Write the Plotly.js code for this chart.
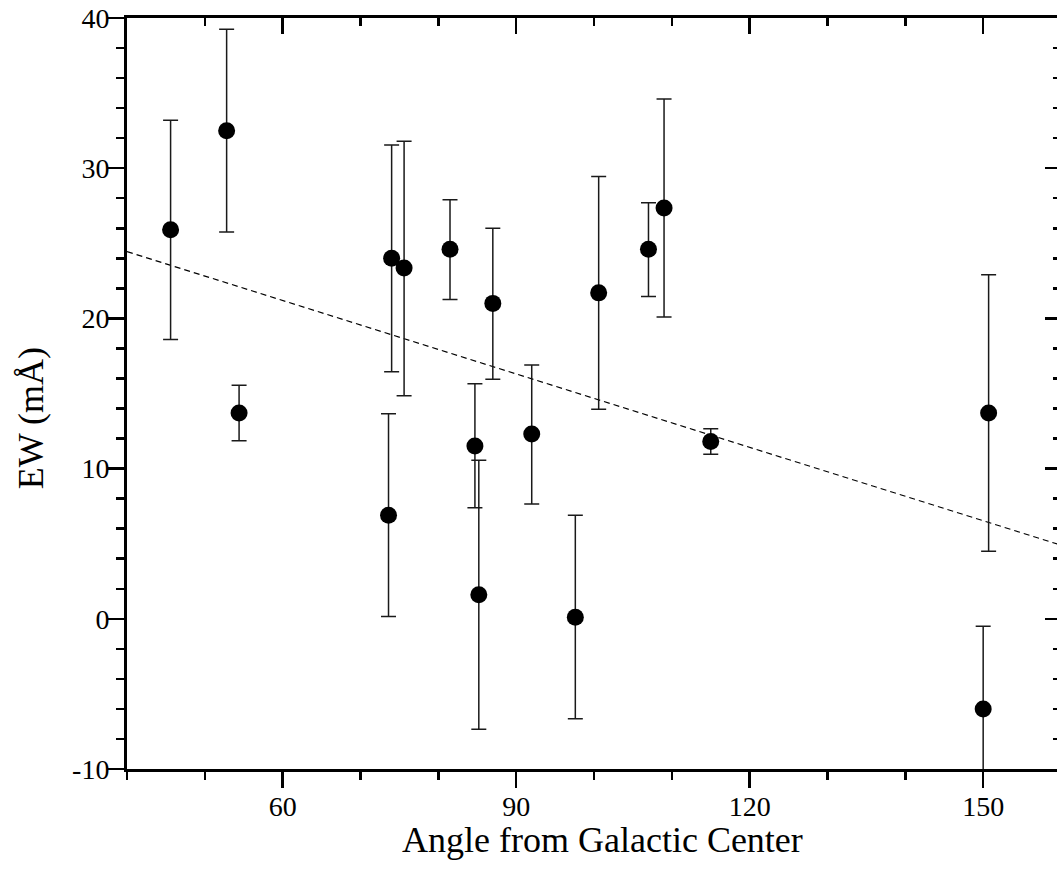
<!DOCTYPE html>
<html>
<head>
<meta charset="utf-8">
<script src="https://cdn.plot.ly/plotly-3.0.1.min.js"></script>
<style>
html, body { margin: 0; padding: 0; overflow: hidden; background: #fff; }
#chart { width: 1063px; height: 884px; }
</style>
</head>
<body>
<div id="chart"></div>
<script>
// Angle from Galactic Center (deg)
const angle = [45.6, 52.8, 54.4, 74.0, 75.6, 81.5, 87.0, 84.7, 85.2, 92.0, 73.6, 97.6, 100.6, 107.0, 109.0, 115.0, 150.7, 150.0];
// Equivalent width (mÅ)
const ew = [25.9, 32.5, 13.7, 24.0, 23.35, 24.6, 21.0, 11.5, 1.6, 12.3, 6.9, 0.1, 21.7, 24.6, 27.35, 11.8, 13.7, -6.0];
// Upper and lower error bar extents
const errPlus = [7.3, 6.75, 1.85, 7.55, 8.45, 3.3, 5.0, 4.15, 8.95, 4.6, 6.75, 6.8, 7.75, 3.1, 7.25, 0.85, 9.2, 5.5];
const errMinus = [7.3, 6.75, 1.85, 7.55, 8.5, 3.35, 5.05, 4.1, 8.95, 4.65, 6.75, 6.75, 7.75, 3.15, 7.25, 0.85, 9.2, 5.5];
// Linear fit line
const fitX = [40, 160];
const fitY = [24.45, 4.9];
// Tick labels
const xTickVals = [60, 90, 120, 150];
const xTickText = ['60', '90', '120', '150'];
const yTickVals = [-10, 0, 10, 20, 30, 40];
const yTickText = ['-10', '0', '10', '20', '30', '40'];

const FONT = 'Liberation Serif, Times New Roman, serif';
const xRange = [40, 160];
const yRange = [-10, 40];

const traces = [
  {
    x: fitX, y: fitY, mode: 'lines', type: 'scatter',
    line: { color: '#000', width: 1.2, dash: '6px,4px' },
    hoverinfo: 'skip', showlegend: false
  },
  {
    x: angle, y: ew, mode: 'markers', type: 'scatter',
    marker: { color: '#000', size: 17 },
    error_y: {
      type: 'data', symmetric: false, array: errPlus, arrayminus: errMinus,
      color: '#1a1a1a', thickness: 1.5, width: 7.5
    },
    showlegend: false
  },
  {
    // invisible helper trace so the mirrored top/right frame axes are drawn
    x: fitX, y: fitY, xaxis: 'x2', yaxis: 'y2', mode: 'lines', type: 'scatter',
    line: { color: 'rgba(0,0,0,0)', width: 0 }, opacity: 0,
    hoverinfo: 'skip', showlegend: false
  }
];

const layout = {
  width: 1063, height: 884,
  margin: { l: 127, r: 2, t: 18, b: 115 },
  paper_bgcolor: '#fff', plot_bgcolor: '#fff',
  font: { family: FONT, color: '#000', size: 28 },
  showlegend: false,
  xaxis: {
    range: xRange, showgrid: false, zeroline: false,
    showline: true, linecolor: '#000', linewidth: 3,
    tickmode: 'array', tickvals: xTickVals, ticktext: xTickText,
    ticks: 'outside', ticklen: 16, tickwidth: 2.5, tickcolor: '#000',
    ticklabelstandoff: -6,
    minor: { tickmode: 'linear', tick0: 0, dtick: 10, ticks: 'outside', ticklen: 8, tickwidth: 2.5, tickcolor: '#000', showgrid: false },
    tickfont: { family: FONT, size: 28, color: '#000' }
  },
  yaxis: {
    range: yRange, showgrid: false, zeroline: false,
    showline: true, linecolor: '#000', linewidth: 3,
    tickmode: 'array', tickvals: yTickVals, ticktext: yTickText,
    ticks: 'outside', ticklen: 16, tickwidth: 2.5, tickcolor: '#000',
    ticklabelstandoff: -7,
    minor: { tickmode: 'linear', tick0: 0, dtick: 2, ticks: 'outside', ticklen: 8, tickwidth: 2.5, tickcolor: '#000', showgrid: false },
    tickfont: { family: FONT, size: 28, color: '#000' }
  },
  xaxis2: {
    range: xRange, overlaying: 'x', side: 'top', anchor: 'y2',
    showgrid: false, zeroline: false, showticklabels: false,
    showline: true, linecolor: '#000', linewidth: 3,
    tickmode: 'array', tickvals: xTickVals,
    ticks: 'inside', ticklen: 16, tickwidth: 2.5, tickcolor: '#000',
    minor: { tickmode: 'linear', tick0: 0, dtick: 10, ticks: 'inside', ticklen: 8, tickwidth: 2.5, tickcolor: '#000', showgrid: false }
  },
  yaxis2: {
    range: yRange, overlaying: 'y', side: 'right', anchor: 'x2',
    showgrid: false, zeroline: false, showticklabels: false,
    showline: true, linecolor: '#000', linewidth: 3,
    tickmode: 'array', tickvals: yTickVals,
    ticks: 'inside', ticklen: 16, tickwidth: 2.5, tickcolor: '#000',
    minor: { tickmode: 'linear', tick0: 0, dtick: 2, ticks: 'inside', ticklen: 8, tickwidth: 2.5, tickcolor: '#000', showgrid: false }
  },
  annotations: [
    {
      text: 'Angle from Galactic Center', xref: 'paper', yref: 'paper',
      x: 0.5096, y: -0.094, xanchor: 'center', yanchor: 'middle',
      showarrow: false, font: { family: FONT, size: 36, color: '#000' }
    },
    {
      text: 'EW (mÅ)', xref: 'paper', yref: 'paper',
      x: -0.1028, y: 0.467, xanchor: 'center', yanchor: 'middle', textangle: -90,
      showarrow: false, font: { family: FONT, size: 36, color: '#000' }
    }
  ]
};

Plotly.newPlot('chart', traces, layout, { displayModeBar: false, staticPlot: true });
</script>
</body>
</html>
